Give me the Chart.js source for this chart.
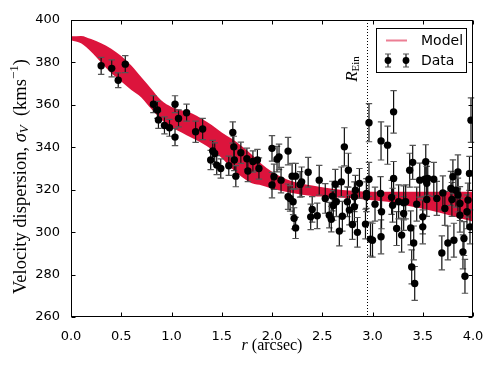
<!DOCTYPE html>
<html><head><meta charset="utf-8">
<script src="https://cdn.jsdelivr.net/npm/chart.js@4/dist/chart.umd.min.js"></script>
<style>html,body{margin:0;padding:0;background:#fff;}#wrap{width:498px;height:374px;}</style>
</head><body><div id="wrap"><canvas id="c" width="498" height="374"></canvas></div>
<script>
// ---- model band (r in arcsec, sigma in km/s)
const modelR     = [0,0.1,0.2,0.3,0.4,0.5,0.6,0.7,0.8,0.9,1.0,1.1,1.2,1.3,1.4,1.5,1.6,1.7,1.8,1.9,2.0,2.2,2.4,2.6,2.8,3.0,3.2,3.4,3.6,3.8,4.0];
const modelUpper = [392.3,392.5,391,389,386.5,383,378.5,373,367.5,362,359,357.5,356,353.5,350.5,347,344,340.5,336.5,332,328.5,324,322,320.5,319.5,319,319,319,319,319,319];
const modelLower = [390.5,389,385,380,375,371,367,363.5,358,353,349.5,347,344.5,342,339,335,330,326,323,322,320.5,318.5,317,316.5,316,315,314,312,310,307.5,305];
// ---- data points
const dataR = [0.30,0.405,0.47,0.54,0.82,0.86,0.87,0.93,0.98,1.035,1.07,1.035,1.15,1.24,1.31,1.39,1.41,1.43,1.45,1.49,1.57,1.61,1.62,1.625,1.64,1.69,1.75,1.76,1.81,1.855,1.87,
 2.0,2.05,2.07,2.16,2.02,2.0,2.09,2.20,2.235,2.28,2.16,2.18,2.21,2.22,2.235,2.295,2.36,2.40,2.385,2.45,2.47,2.53,2.57,2.59,2.60,2.61,2.63,2.64,2.67,2.69,2.70,2.72,2.76,2.75,2.77,2.80,2.82,2.83,2.82,2.85,2.87,2.93,2.94,2.94,
 2.965,2.965,2.98,3.0,3.025,3.085,3.085,3.08,3.09,3.15,3.21,3.21,3.19,3.20,3.24,3.26,3.29,3.31,3.31,3.33,3.37,3.38,3.40,3.39,3.41,3.42,3.44,3.47,3.50,3.50,3.52,3.53,3.54,3.55,3.54,3.61,3.64,3.70,3.69,3.72,3.75,3.78,3.79,3.80,3.81,3.83,3.85,3.85,3.87,3.87,3.90,3.91,3.92,3.94,3.95,3.965,3.97,3.98];
const dataV = [378.4,377.2,371.6,379.2,360.3,357.6,352.9,350.3,349.2,360.3,353.6,344.8,356.3,347.3,348.6,334.0,338.3,337.1,331.6,330.0,331.3,347.0,340.2,334.0,326.4,337.4,334.6,328.8,333.3,334.0,330.0,
 339.5,334.4,335.5,338.2,326.1,322.2,324.5,326.4,326.4,322.5,316.7,315.9,314.3,306.5,302.0,323.7,328.2,310.7,307.2,307.7,324.5,315.9,308.0,306.1,317.0,312.6,322.6,314.3,300.5,323.7,307.5,340.2,329.2,314.3,310.4,303.6,316.7,319.8,312.0,299.9,323.0,303.8,318.2,316.7,
 351.6,324.9,296.7,296.2,313.2,343.0,297.8,318.2,309.6,341.0,356.7,325.3,316.4,312.7,301.7,314.3,298.6,308.8,313.8,314.3,329.2,302.0,332.9,283.6,294.9,275.8,313.2,324.5,307.2,302.5,324.9,333.2,323.0,325.3,315.4,324.9,315.9,318.5,290.2,311.2,294.9,320.6,315.4,326.1,296.2,319.8,328.4,317.5,308.0,313.5,290.7,297.0,279.2,309.6,315.1,327.7,302.5,352.8];
const dataErr = [4,4,3.5,4,4,4,4,4,4,4,4,4,4,5,5,4.5,5,5,4.5,4.5,4.5,5,5,5,5,5,5,5,5,5,5,
 6,6,6,6.5,6,6,6,6,6,6,6,6,6,5,5,7,7,6,6,6,7,7,6,6,7,7,7,7,7,7,7,9,8,7,7,7,7,7,7,7,7,7,7,7,
 9,8,8,8,8,9,8,8,8,9,10,8,8,8,8,8,8,8,8,8,8,8,8,8,8,8,8,8,8,8,8,8,8,8,8,8,8,8,8,8,8,8,8,8,8,8,8,8,8,8,8,8,8,8,8,8,8,10.5];
// ---- axes / annotations
const xTickValues = [0,0.5,1.0,1.5,2.0,2.5,3.0,3.5,4.0];
const yTickValues = [260,280,300,320,340,360,380,400];
const rEin = 2.95;
const legendLabels = ['Model','Data'];

const CRIMSON = '#dc143c';
const SERIF = '"Liberation Serif", "DejaVu Serif", serif';
const SANS = '"DejaVu Sans", sans-serif';

function drawRich(ctx, segs, x, y) {
  let total = 0;
  segs.forEach(s => { ctx.font = s.f; s.w = ctx.measureText(s.t).width; total += s.w; });
  let cx = x - total / 2;
  ctx.textBaseline = 'middle'; ctx.textAlign = 'left';
  segs.forEach(s => { ctx.font = s.f; ctx.fillText(s.t, cx, y + (s.dy || 0)); cx += s.w; });
}

const decor = {
  id: 'decor',
  beforeDatasetDraw(chart, args) {
    if (args.index !== 0) return;
    const ctx = chart.ctx, xs = chart.scales.x, ys = chart.scales.y, ca = chart.chartArea;
    ctx.save();
    // R_Ein dotted line
    const xe = Math.round(xs.getPixelForValue(rEin)) + 0.5;
    ctx.strokeStyle = '#000'; ctx.lineWidth = 1; ctx.setLineDash([1, 2]);
    ctx.beginPath(); ctx.moveTo(xe, ca.top); ctx.lineTo(xe, ca.bottom); ctx.stroke();
    ctx.setLineDash([]);
    // error bars
    ctx.lineWidth = 1.2;
    for (let i = 0; i < dataR.length; i++) {
      const px = xs.getPixelForValue(dataR[i]);
      const y1 = ys.getPixelForValue(dataV[i] + dataErr[i]);
      const y2 = ys.getPixelForValue(dataV[i] - dataErr[i]);
      ctx.strokeStyle = '#111';
      ctx.beginPath(); ctx.moveTo(px, y1); ctx.lineTo(px, y2); ctx.stroke();
      ctx.strokeStyle = '#555';
      ctx.beginPath(); ctx.moveTo(px - 3.2, y1); ctx.lineTo(px + 3.2, y1);
      ctx.moveTo(px - 3.2, y2); ctx.lineTo(px + 3.2, y2); ctx.stroke();
    }
    ctx.restore();
  },
  afterDraw(chart) {
    const ctx = chart.ctx, xs = chart.scales.x, ys = chart.scales.y, ca = chart.chartArea;
    ctx.save();
    // frame
    ctx.strokeStyle = '#000'; ctx.lineWidth = 1;
    const L = Math.round(ca.left) + 0.5, R = Math.round(ca.right) - 0.5, T = Math.round(ca.top) + 0.5, B = Math.round(ca.bottom) - 0.5;
    ctx.strokeRect(L, T, R - L, B - T);
    // inward ticks
    ctx.beginPath();
    xTickValues.forEach(v => { const p = Math.round(xs.getPixelForValue(v)) + 0.5;
      ctx.moveTo(p, B); ctx.lineTo(p, B - 4); ctx.moveTo(p, T); ctx.lineTo(p, T + 4); });
    yTickValues.forEach(v => { const p = Math.round(ys.getPixelForValue(v)) + 0.5;
      ctx.moveTo(L, p); ctx.lineTo(L + 4, p); ctx.moveTo(R, p); ctx.lineTo(R - 4, p); });
    ctx.stroke();
    ctx.fillStyle = '#000';
    // x title
    drawRich(ctx, [{t: 'r', f: 'italic 16px ' + SERIF}, {t: ' (arcsec)', f: '16px ' + SERIF}], (ca.left + ca.right) / 2, 346);
    // y title
    ctx.save(); ctx.translate(21, (ca.top + ca.bottom) / 2 + 8); ctx.rotate(-Math.PI / 2);
    drawRich(ctx, [
      {t: 'Velocity dispersion, ', f: '18.5px ' + SERIF},
      {t: 'σ', f: 'italic 18.5px ' + SERIF},
      {t: 'V', f: 'italic 13px ' + SERIF, dy: 4},
      {t: '  (kms', f: '18.5px ' + SERIF},
      {t: '−1', f: '13px ' + SERIF, dy: -6},
      {t: ')', f: '18.5px ' + SERIF}], 0, 0);
    ctx.restore();
    // R_Ein label
    ctx.save(); ctx.translate(xs.getPixelForValue(rEin) - 15, 69); ctx.rotate(-Math.PI / 2);
    drawRich(ctx, [{t: 'R', f: 'italic 17px ' + SERIF}, {t: 'Ein', f: '11px ' + SERIF, dy: 4}], 0, 0);
    ctx.restore();
    // legend
    ctx.fillStyle = '#fff'; ctx.fillRect(376.5, 28.5, 90, 44);
    ctx.strokeStyle = '#000'; ctx.lineWidth = 1; ctx.strokeRect(376.5, 28.5, 90, 44);
    ctx.strokeStyle = 'rgba(220,20,60,0.55)'; ctx.lineWidth = 2;
    ctx.beginPath(); ctx.moveTo(386, 40.5); ctx.lineTo(407, 40.5); ctx.stroke();
    [388, 406].forEach(x => {
      ctx.strokeStyle = '#111'; ctx.lineWidth = 1.2;
      ctx.beginPath(); ctx.moveTo(x, 54); ctx.lineTo(x, 67); ctx.stroke();
      ctx.strokeStyle = '#555';
      ctx.beginPath(); ctx.moveTo(x - 3, 54); ctx.lineTo(x + 3, 54); ctx.moveTo(x - 3, 67); ctx.lineTo(x + 3, 67); ctx.stroke();
      ctx.fillStyle = '#000'; ctx.beginPath(); ctx.arc(x, 60.5, 3.4, 0, Math.PI * 2); ctx.fill();
    });
    ctx.fillStyle = '#000'; ctx.font = '14px ' + SANS; ctx.textAlign = 'left'; ctx.textBaseline = 'middle';
    ctx.fillText(legendLabels[0], 421, 41);
    ctx.fillText(legendLabels[1], 421, 61);
    ctx.restore();
  }
};

new Chart(document.getElementById('c'), {
  type: 'scatter',
  data: {
    datasets: [
      { label: legendLabels[1], data: dataR.map((r, i) => ({x: r, y: dataV[i]})),
        pointRadius: 3.7, pointHoverRadius: 3.7, backgroundColor: '#000', borderColor: '#000', borderWidth: 0, showLine: false },
      { label: legendLabels[0], data: modelR.map((r, i) => ({x: r, y: modelUpper[i]})),
        showLine: true, pointRadius: 0, borderWidth: 0, borderColor: CRIMSON, backgroundColor: CRIMSON,
        fill: '+1', cubicInterpolationMode: 'monotone' },
      { label: 'lower', data: modelR.map((r, i) => ({x: r, y: modelLower[i]})),
        showLine: true, pointRadius: 0, borderWidth: 0, borderColor: CRIMSON, backgroundColor: CRIMSON,
        fill: false, cubicInterpolationMode: 'monotone' }
    ]
  },
  options: {
    responsive: false, animation: false, devicePixelRatio: 1,
    layout: { padding: { top: 20, right: 25, left: 0, bottom: 0 } },
    plugins: { legend: { display: false }, tooltip: { enabled: false } },
    scales: {
      x: { type: 'linear', min: 0, max: 4,
        afterBuildTicks: s => { s.ticks = xTickValues.map(v => ({value: v})); },
        ticks: { callback: v => Number(v).toFixed(1), font: { family: SANS, size: 13 }, color: '#000', padding: 4, maxRotation: 0, autoSkip: false },
        grid: { display: false }, border: { display: false },
        afterFit: s => { s.height = 57; } },
      y: { type: 'linear', min: 260, max: 400,
        afterBuildTicks: s => { s.ticks = yTickValues.map(v => ({value: v})); },
        ticks: { font: { family: SANS, size: 13 }, color: '#000', padding: 3, autoSkip: false },
        grid: { display: false }, border: { display: false },
        afterFit: s => { s.width = 71; } }
    }
  },
  plugins: [decor]
});
</script></body></html>
